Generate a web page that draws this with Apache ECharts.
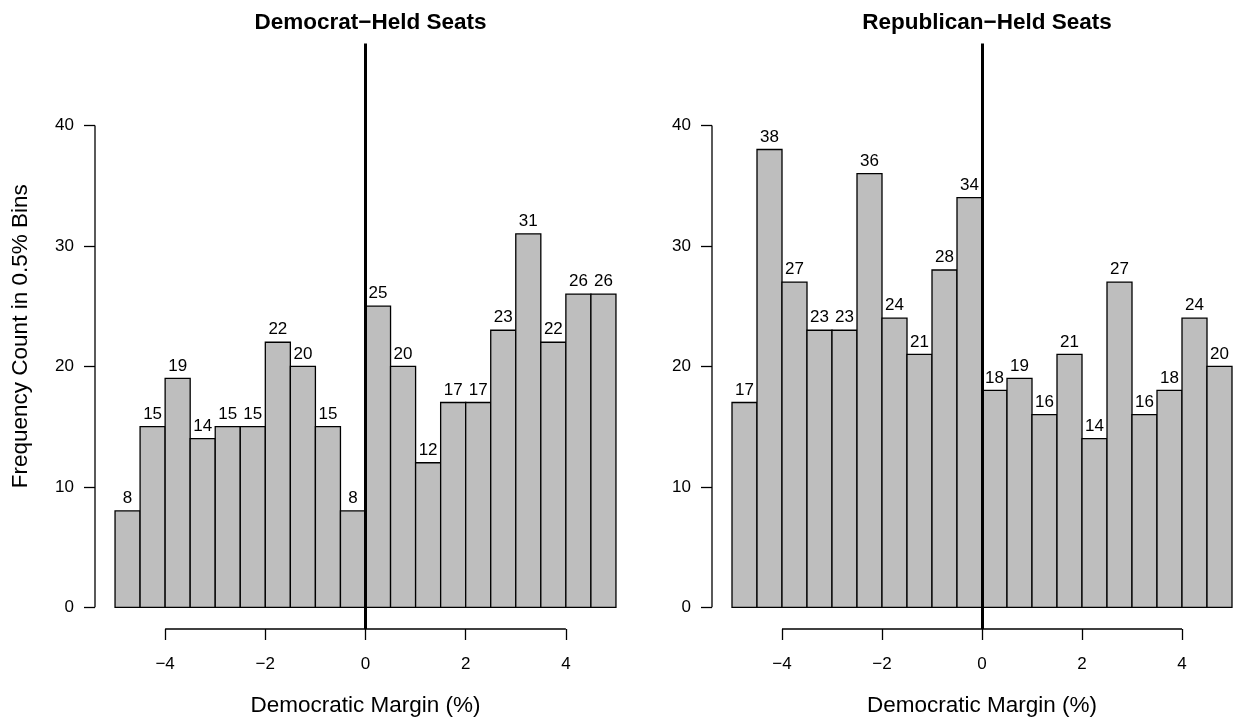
<!DOCTYPE html>
<html>
<head>
<meta charset="utf-8">
<script src="https://cdn.jsdelivr.net/npm/echarts@6/dist/echarts.min.js"></script>
<style>
  html, body { margin: 0; padding: 0; background: #ffffff; }
  #chart { width: 1233px; height: 721px; }
</style>
</head>
<body>
<div id="chart"></div>
<script>
// Histogram bins: left edge of each 0.5-point bin of the Democratic margin
const binStarts = [-5, -4.5, -4, -3.5, -3, -2.5, -2, -1.5, -1, -0.5, 0, 0.5, 1, 1.5, 2, 2.5, 3, 3.5, 4, 4.5];
const binWidth = 0.5;

// Seat counts per bin
const demHeldCounts = [8, 15, 19, 14, 15, 15, 22, 20, 15, 8, 25, 20, 12, 17, 17, 23, 31, 22, 26, 26];
const repHeldCounts = [17, 38, 27, 23, 23, 36, 24, 21, 28, 34, 18, 19, 16, 21, 14, 27, 16, 18, 24, 20];

const panelTitles = ['Democrat\u2212Held Seats', 'Republican\u2212Held Seats'];
const xTicks = [-4, -2, 0, 2, 4];
const yTicks = [0, 10, 20, 30, 40];
const xLabel = 'Democratic Margin (%)';
const yLabel = 'Frequency Count in 0.5% Bins';

// Plot ranges: data limits padded by 4% on each side
const xLim = [-5, 5];
const yLim = [0, 45];
const xPad = (xLim[1] - xLim[0]) * 0.04;
const yPad = (yLim[1] - yLim[0]) * 0.04;
const xMin = xLim[0] - xPad, xMax = xLim[1] + xPad;
const yMin = yLim[0] - yPad, yMax = yLim[1] + yPad;

const FONT = '"Liberation Sans", Arial, Helvetica, sans-serif';
const fmtNum = v => (v < 0 ? '\u2212' + Math.abs(v) : String(v));

const chart = echarts.init(document.getElementById('chart'), null, { renderer: 'canvas' });

// The right panel runs past the canvas edge, so bounds are not clamped
const grids = [
  { left: 95, top: 43.5, width: 541, height: 585.5, outerBoundsMode: 'none', containLabel: false },
  { left: 712, top: 43.5, width: 540, height: 585.5, outerBoundsMode: 'none', containLabel: false }
];

function makeXAxis(i) {
  return {
    type: 'value', gridIndex: i, min: xMin, max: xMax,
    name: xLabel, nameLocation: 'middle', nameGap: 65,
    nameTextStyle: { fontFamily: FONT, fontSize: 22.5, color: '#000' },
    axisLine: { show: false, onZero: false },
    splitLine: { show: false },
    axisTick: { show: true, customValues: xTicks, length: 11, lineStyle: { color: '#000', width: 1.3 } },
    axisLabel: { show: true, customValues: xTicks, formatter: fmtNum, margin: 27,
                 fontFamily: FONT, fontSize: 17, color: '#000' }
  };
}

function makeYAxis(i) {
  return {
    type: 'value', gridIndex: i, min: yMin, max: yMax,
    name: i === 0 ? yLabel : '', nameLocation: 'middle', nameGap: 63, nameRotate: 90,
    nameTextStyle: { fontFamily: FONT, fontSize: 22.5, color: '#000' },
    axisLine: { show: false, onZero: false },
    splitLine: { show: false },
    axisTick: { show: true, customValues: yTicks, length: 11, lineStyle: { color: '#000', width: 1.3 } },
    axisLabel: { show: true, customValues: yTicks, formatter: fmtNum, margin: 21,
                 fontFamily: FONT, fontSize: 17, color: '#000' }
  };
}

function histSeries(i, counts) {
  const data = binStarts.map((s, k) => [s, s + binWidth, counts[k]]);
  return {
    type: 'custom', xAxisIndex: i, yAxisIndex: i, data: data, clip: false,
    renderItem: function (params, api) {
      const x0 = api.value(0), x1 = api.value(1), n = api.value(2);
      const top = api.coord([x0, n]);
      const bot = api.coord([x1, 0]);
      return {
        type: 'group',
        children: [
          { type: 'rect',
            shape: { x: top[0], y: top[1], width: bot[0] - top[0], height: bot[1] - top[1] },
            style: { fill: '#bebebe', stroke: '#000', lineWidth: 1.3 } },
          { type: 'text', x: (top[0] + bot[0]) / 2, y: top[1] - 4,
            style: { text: String(n), fill: '#000', font: '17px ' + FONT,
                     align: 'center', verticalAlign: 'bottom' } }
        ]
      };
    },
    markLine: {
      silent: true, symbol: 'none', animation: false,
      label: { show: false },
      lineStyle: { color: '#000', width: 3, type: 'solid' },
      data: [{ xAxis: 0 }]
    }
  };
}

// Axis lines running from the first to the last tick
function axisLineSeries(i) {
  return {
    type: 'custom', xAxisIndex: i, yAxisIndex: i, data: [[0]], clip: false, silent: true,
    renderItem: function (params, api) {
      const xa = api.coord([xTicks[0], yMin]);
      const xb = api.coord([xTicks[xTicks.length - 1], yMin]);
      const ya = api.coord([xMin, yTicks[0]]);
      const yb = api.coord([xMin, yTicks[yTicks.length - 1]]);
      const st = { stroke: '#000', lineWidth: 1.3 };
      return {
        type: 'group',
        children: [
          { type: 'line', shape: { x1: xa[0], y1: xa[1], x2: xb[0], y2: xb[1] }, style: st },
          { type: 'line', shape: { x1: ya[0], y1: ya[1], x2: yb[0], y2: yb[1] }, style: st }
        ]
      };
    }
  };
}

chart.setOption({
  animation: false,
  backgroundColor: '#ffffff',
  title: panelTitles.map((t, i) => ({
    text: t,
    left: grids[i].left + grids[i].width / 2,
    top: 6,
    textAlign: 'center',
    textStyle: { fontFamily: FONT, fontSize: 22.5, fontWeight: 'bold', color: '#000' }
  })),
  grid: grids,
  xAxis: [makeXAxis(0), makeXAxis(1)],
  yAxis: [makeYAxis(0), makeYAxis(1)],
  series: [
    histSeries(0, demHeldCounts),
    histSeries(1, repHeldCounts),
    axisLineSeries(0),
    axisLineSeries(1)
  ]
});
</script>
</body>
</html>
